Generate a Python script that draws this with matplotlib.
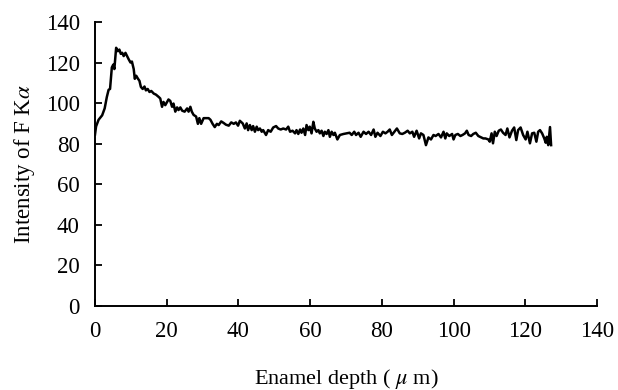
import matplotlib
matplotlib.use("Agg")
import matplotlib.pyplot as plt

# depth (um) and F K-alpha intensity
depth = [0.0, 0.3, 1.0, 2.0, 2.7, 3.3, 3.8, 4.2, 4.7, 5.1, 5.4, 5.9, 6.4, 6.8, 7.2, 7.6,
         8.0, 8.5, 9.0, 9.4, 9.9, 10.3, 10.8, 11.1, 11.5, 12.0, 12.4, 12.8, 13.3, 13.8,
         14.2, 14.7, 15.2, 15.7, 16.4, 17.0, 17.8, 18.2, 18.7, 19.1, 19.6, 20.1, 20.5,
         21.0, 21.5, 21.9, 22.4, 22.9, 23.3, 23.8, 24.3, 25.0, 25.7, 26.1, 26.6, 27.0,
         27.5, 28.2, 28.7, 29.1, 29.6, 30.3, 30.9, 31.7, 32.2, 32.8, 33.4, 34.0, 34.5,
         35.2, 35.9, 36.5, 37.3, 38.0, 38.7, 39.3, 39.9, 40.4, 41.2, 41.8, 42.3, 42.7,
         43.2, 43.7, 44.1, 44.6, 45.1, 45.5, 46.0, 46.5, 46.9, 47.7, 48.3, 49.0, 49.7,
         50.5, 51.1, 51.8, 52.5, 53.3, 53.9, 54.4, 55.1, 55.8, 56.2, 56.7, 57.2, 57.6,
         58.1, 58.6, 59.0, 59.5, 59.9, 60.4, 60.9, 61.3, 61.8, 62.3, 62.7, 63.2, 63.7,
         64.1, 64.6, 65.1, 65.5, 66.0, 66.5, 66.9, 67.6, 68.3, 69.3, 70.2, 71.0, 71.6,
         72.3, 72.8, 73.5, 74.1, 74.9, 75.6, 76.3, 77.0, 77.7, 78.2, 78.8, 79.6, 80.3,
         81.0, 81.6, 82.2, 82.8, 83.5, 84.2, 85.0, 85.7, 86.4, 87.2, 87.8, 88.5, 89.0,
         89.7, 90.4, 90.9, 91.6, 92.3, 93.0, 93.7, 94.4, 95.0, 95.8, 96.5, 97.2, 97.7,
         98.1, 98.8, 99.6, 100.0, 100.5, 101.2, 101.9, 102.5, 103.2, 103.7, 104.2, 104.9,
         105.5, 106.2, 106.9, 107.7, 108.3, 108.9, 109.7, 110.1, 110.6, 111.0, 111.5,
         112.0, 112.6, 113.2, 113.8, 114.5, 115.0, 115.6, 116.3, 116.9, 117.5, 118.0,
         118.7, 119.4, 120.1, 120.6, 121.3, 121.9, 122.5, 123.1, 123.6, 124.1, 124.7,
         125.3, 125.7, 126.0, 126.4, 126.9, 127.2]
intensity = [84.5, 88.5, 91.8, 94.0, 97.4, 103.0, 106.6, 107.0, 117.6, 119.0, 116.8, 127.3,
             125.6, 126.4, 124.3, 124.8, 123.2, 124.8, 123.0, 121.6, 120.0, 120.5, 116.8,
             112.0, 113.5, 112.0, 111.0, 108.0, 107.0, 108.2, 106.3, 107.0, 105.5, 106.0,
             104.7, 104.2, 103.0, 102.3, 98.2, 100.6, 99.0, 100.6, 101.8, 101.1, 98.2, 99.8,
             95.8, 97.9, 96.6, 97.9, 96.3, 95.8, 97.4, 95.8, 98.2, 95.8, 94.2, 93.4, 89.8,
             92.6, 89.8, 92.6, 92.6, 92.6, 91.8, 89.8, 88.2, 89.8, 89.2, 91.0, 90.2, 89.4,
             88.9, 90.5, 89.8, 90.5, 88.9, 91.3, 90.0, 87.5, 90.0, 86.7, 89.2, 86.7, 88.7,
             85.9, 88.4, 86.7, 87.5, 85.9, 86.7, 84.3, 86.7, 85.9, 88.0, 88.7, 87.5, 87.0,
             87.5, 87.0, 88.4, 85.9, 86.4, 85.1, 86.7, 84.8, 87.0, 85.4, 87.5, 84.3, 89.2,
             86.7, 88.4, 85.1, 90.8, 87.5, 85.9, 86.7, 85.1, 86.4, 83.8, 85.9, 84.8, 86.7,
             83.4, 85.9, 84.3, 85.4, 82.1, 84.3, 84.8, 85.1, 85.4, 84.3, 85.9, 84.3, 85.4,
             83.4, 85.9, 84.8, 85.9, 84.3, 87.0, 83.4, 85.4, 83.8, 85.9, 85.1, 85.9, 87.0,
             84.3, 85.9, 87.5, 85.1, 84.8, 85.4, 86.4, 85.1, 85.9, 83.4, 86.4, 82.6, 85.1,
             84.3, 79.3, 83.1, 82.1, 84.3, 83.8, 84.8, 83.1, 85.9, 82.6, 85.1, 83.8, 84.8,
             82.1, 84.3, 84.8, 83.8, 84.3, 85.1, 86.4, 84.3, 83.8, 84.8, 85.4, 83.8, 83.1,
             82.6, 82.6, 82.1, 81.0, 85.1, 80.2, 85.9, 83.8, 86.4, 87.0, 85.4, 84.3, 87.5,
             83.1, 86.4, 88.0, 81.8, 86.7, 88.0, 84.3, 82.1, 85.9, 80.2, 85.1, 85.4, 81.0,
             85.9, 86.7, 85.1, 82.6, 80.5, 83.4, 79.3, 88.2, 79.3]

x_ticks = [0, 20, 40, 60, 80, 100, 120, 140]
y_ticks = [0, 20, 40, 60, 80, 100, 120, 140]

plt.rcParams['font.family'] = ['Liberation Serif', 'DejaVu Serif']
plt.rcParams['mathtext.fontset'] = 'stix'

fig = plt.figure(figsize=(6.18, 3.9), dpi=100)
ax = fig.add_axes([0.1537, 0.2154, 0.8123, 0.7282])

ax.plot(depth, intensity, color='black', lw=1.8)

ax.set_xlim(0, 140)
ax.set_ylim(0, 140)
ax.set_xticks(x_ticks)
ax.set_yticks(y_ticks)
ax.spines['top'].set_visible(False)
ax.spines['right'].set_visible(False)
ax.spines['left'].set_linewidth(1.4)
ax.spines['bottom'].set_linewidth(1.4)
ax.tick_params(direction='in', length=5, width=1.3, labelsize=16.5, pad=11)

ax.set_xlabel(r'Enamel depth ( $\mu$ m)', fontsize=16, labelpad=18)
ax.set_ylabel(r'Intensity of F K$\alpha$', fontsize=16.5, labelpad=6)

fig.savefig('out.png', dpi=100)
